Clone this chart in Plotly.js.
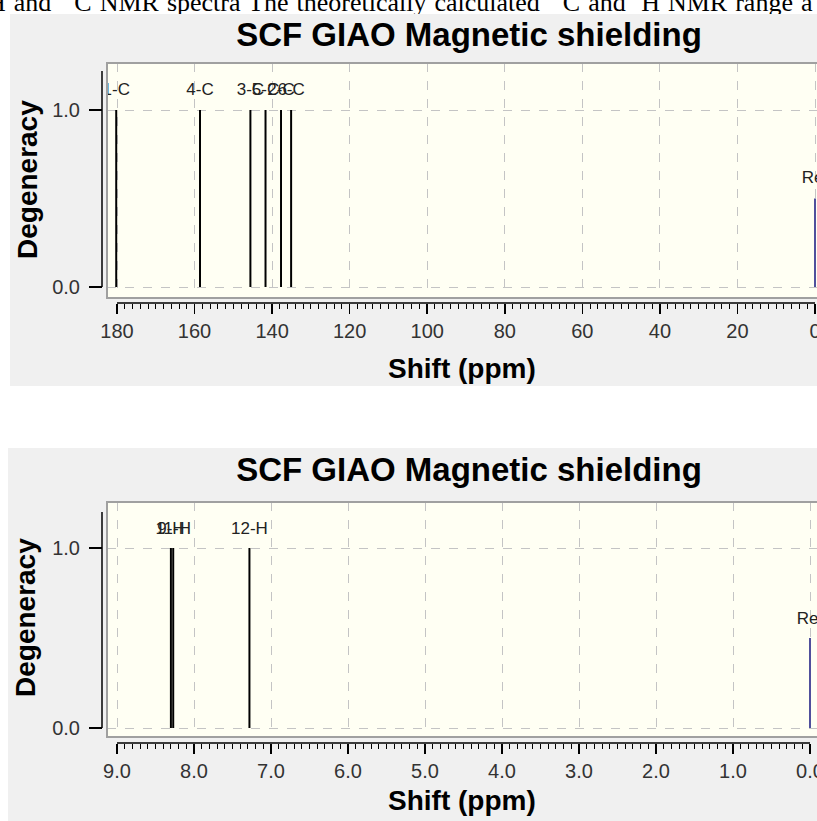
<!DOCTYPE html>
<html>
<head>
<meta charset="utf-8">
<script src="https://cdn.plot.ly/plotly-3.0.1.min.js"></script>
<style>
html, body { margin:0; padding:0; width:817px; height:821px; overflow:hidden; background:#ffffff; position:relative; }
#caption { position:absolute; left:-13px; top:-12px; white-space:nowrap; word-spacing:1.5px;
  font-family:"Liberation Serif","Times New Roman",serif; font-size:26px; color:#000; }
#caption sup { font-size:15px; vertical-align:top; position:relative; top:-6px; }
#c13 { position:absolute; left:10px; top:14px; width:920px; height:372px; }
#h1 { position:absolute; left:8px; top:448px; width:920px; height:373px; }
</style>
</head>
<body>
<div id="caption">H and <sup>13</sup>C NMR spectra The theoretically calculated <sup>13</sup>C and <sup>1</sup>H NMR range a</div>
<div id="c13"></div>
<div id="h1"></div>
<script>
// ---------- data ----------
const titleText = 'SCF GIAO Magnetic shielding';
const xTitleText = 'Shift (ppm)';
const yTitleText = 'Degeneracy';

// 13C spectrum
const cShift = [180.2, 158.6, 145.6, 141.7, 137.7, 135.1];
const cDegeneracy = [1, 1, 1, 1, 1, 1];
const cLabels = ['1-C', '4-C', '3-C', '5-C', '2-C', '6-C'];
const cRefShift = [0.0];
const cRefDegeneracy = [0.5];
const cRefLabel = ['Ref'];
const cTickVals = [180, 160, 140, 120, 100, 80, 60, 40, 20, 0];
const cTickText = ['180', '160', '140', '120', '100', '80', '60', '40', '20', '0'];

// 1H spectrum
const hShift = [8.30, 8.27, 7.28];
const hDegeneracy = [1, 1, 1];
const hLabels = ['9-H', '11-H', '12-H'];
const hRefShift = [0.0];
const hRefDegeneracy = [0.5];
const hRefLabel = ['Ref'];
const hTickVals = [9, 8, 7, 6, 5, 4, 3, 2, 1, 0];
const hTickText = ['9.0', '8.0', '7.0', '6.0', '5.0', '4.0', '3.0', '2.0', '1.0', '0.0'];

const yTickVals = [0, 1];
const yTickText = ['0.0', '1.0'];

// ---------- drawing ----------
const FONT = '"Liberation Sans", Arial, sans-serif';

function sticks(xs, ys) {
  const X = [], Y = [];
  xs.forEach((v, i) => { X.push(v, v, null); Y.push(0, ys[i], null); });
  return { x: X, y: Y };
}

function drawPanel(id, d, g) {
  const W = g.W, H = g.H, ml = 80, mr = 0, mt = g.boxT, mb = 60;
  const pw = W - ml - mr, ph = H - mt - mb;
  const sx = (g.xPx1 - g.xPx0) / (g.xVal1 - g.xVal0);
  const xLeft = g.xVal0 + (g.boxL - g.xPx0) / sx;
  const xRight = g.xVal0 + (W - mr - g.xPx0) / sx;
  const sy = (g.yPx1 - g.yPx0);
  const yTop = (g.boxT - g.yPx0) / sy;
  const yBot = (g.boxB - g.yPx0) / sy;
  const xd0 = (g.boxL - ml) / pw;
  const yd0 = (H - mb - g.boxB) / ph;
  const yPos = (g.yAxisX - ml) / pw;
  const xPos = (H - mb - g.xAxisY) / ph;
  const px2x = p => (p - ml) / pw;
  const py2y = p => (H - mb - p) / ph;

  const minorVals = [];
  const lo = Math.min(g.xVal0, g.xVal1), hi = Math.max(g.xVal0, g.xVal1);
  for (let k = 0; lo + k * g.minorStep <= hi + 1e-9; k++) minorVals.push(+(lo + k * g.minorStep).toFixed(4));

  const st = sticks(d.shift, d.deg);
  const rs = sticks(d.refShift, d.refDeg);
  const traces = [
    { type: 'scatter', mode: 'lines', x: st.x, y: st.y, line: { color: '#000000', width: 2 }, hoverinfo: 'skip', showlegend: false },
    { type: 'scatter', mode: 'lines', x: rs.x, y: rs.y, line: { color: '#50509c', width: 2 }, hoverinfo: 'skip', showlegend: false },
    { type: 'scatter', mode: 'text', x: d.shift, y: d.deg.map(v => v + g.labelOffset), text: d.labels,
      textposition: 'middle center', textfont: { family: FONT, size: 17, color: '#222' }, cliponaxis: true, hoverinfo: 'skip', showlegend: false },
    { type: 'scatter', mode: 'text', x: d.refShift, y: d.refDeg.map(v => v + g.labelOffset), text: d.refLabel,
      textposition: 'middle center', textfont: { family: FONT, size: 17, color: '#222' }, cliponaxis: true, hoverinfo: 'skip', showlegend: false }
  ];

  const layout = {
    width: W, height: H,
    margin: { l: ml, r: mr, t: mt, b: mb, pad: 0 },
    paper_bgcolor: '#f0f0f0',
    plot_bgcolor: '#fffff3',
    showlegend: false,
    title: { text: '<b>' + titleText + '</b>', font: { family: FONT, size: 33, color: '#000' },
      xref: 'container', yref: 'container', x: g.titleX / W, y: 1 - g.titleY / H, xanchor: 'center', yanchor: 'middle' },
    xaxis: {
      domain: [xd0, 1], range: [xLeft, xRight], anchor: 'free', position: xPos,
      tickmode: 'array', tickvals: d.tickVals, ticktext: d.tickText,
      ticks: 'outside', ticklen: 10, tickwidth: 1.5, tickcolor: '#000',
      tickfont: { family: FONT, size: 20, color: '#333' },
      showline: false, zeroline: false,
      showgrid: true, gridcolor: '#c4c4c4', gridwidth: 1, griddash: 'dash',
      minor: { tickmode: 'array', tickvals: minorVals, ticks: 'outside', ticklen: 5, tickwidth: 1, tickcolor: '#000', showgrid: false },
      fixedrange: true
    },
    yaxis: {
      domain: [yd0, 1], range: [yBot, yTop], anchor: 'free', position: yPos,
      tickmode: 'array', tickvals: yTickVals, ticktext: yTickText,
      ticks: 'outside', ticklen: 13, tickwidth: 1.5, tickcolor: '#000', ticklabelstandoff: 5,
      tickfont: { family: FONT, size: 20, color: '#333' },
      showline: false, zeroline: false,
      showgrid: true, gridcolor: '#c4c4c4', gridwidth: 1, griddash: 'dash',
      fixedrange: true
    },
    shapes: [
      { type: 'rect', xref: 'paper', yref: 'paper', x0: xd0, x1: 1.3, y0: yd0, y1: 1, line: { color: '#a0a0a0', width: 2 }, fillcolor: 'rgba(0,0,0,0)', layer: 'above' },
      { type: 'line', xref: 'paper', yref: 'y', x0: yPos, x1: yPos, y0: 0, y1: g.yAxisTop, line: { color: '#000', width: 1.5 } },
      { type: 'line', xref: 'x', yref: 'paper', x0: d.tickVals[0], x1: d.tickVals[d.tickVals.length - 1], y0: xPos, y1: xPos, line: { color: '#000', width: 1.5 } }
    ],
    annotations: [
      { text: '<b>' + xTitleText + '</b>', xref: 'paper', yref: 'paper', x: px2x(g.xTitleX), y: py2y(g.xTitleY),
        xanchor: 'center', yanchor: 'middle', showarrow: false, font: { family: FONT, size: 28, color: '#000' } },
      { text: '<b>' + yTitleText + '</b>', xref: 'paper', yref: 'paper', x: px2x(g.yTitleX), y: py2y(g.yTitleY),
        xanchor: 'center', yanchor: 'middle', textangle: -90, showarrow: false, font: { family: FONT, size: 28, color: '#000' } }
    ]
  };
  Plotly.newPlot(id, traces, layout, { staticPlot: true, displayModeBar: false });
}

drawPanel('c13',
  { shift: cShift, deg: cDegeneracy, labels: cLabels, refShift: cRefShift, refDeg: cRefDegeneracy, refLabel: cRefLabel, tickVals: cTickVals, tickText: cTickText },
  { W: 920, H: 372, boxL: 97, boxT: 49, boxB: 284, yAxisX: 92, xAxisY: 289,
    xVal0: 180, xPx0: 107, xVal1: 0, xPx1: 805, yPx0: 273, yPx1: 96, yAxisTop: 1.22,
    minorStep: 2, labelOffset: 0.11,
    titleX: 459, titleY: 20, xTitleX: 452, xTitleY: 354, yTitleX: 17, yTitleY: 166 });

drawPanel('h1',
  { shift: hShift, deg: hDegeneracy, labels: hLabels, refShift: hRefShift, refDeg: hRefDegeneracy, refLabel: hRefLabel, tickVals: hTickVals, tickText: hTickText },
  { W: 920, H: 373, boxL: 99, boxT: 54, boxB: 289, yAxisX: 94, xAxisY: 295,
    xVal0: 9, xPx0: 109, xVal1: 0, xPx1: 802, yPx0: 280, yPx1: 100, yAxisTop: 1.2,
    minorStep: 0.1, labelOffset: 0.1,
    titleX: 461, titleY: 21, xTitleX: 454, xTitleY: 352, yTitleX: 17, yTitleY: 170 });
</script>
</body>
</html>
